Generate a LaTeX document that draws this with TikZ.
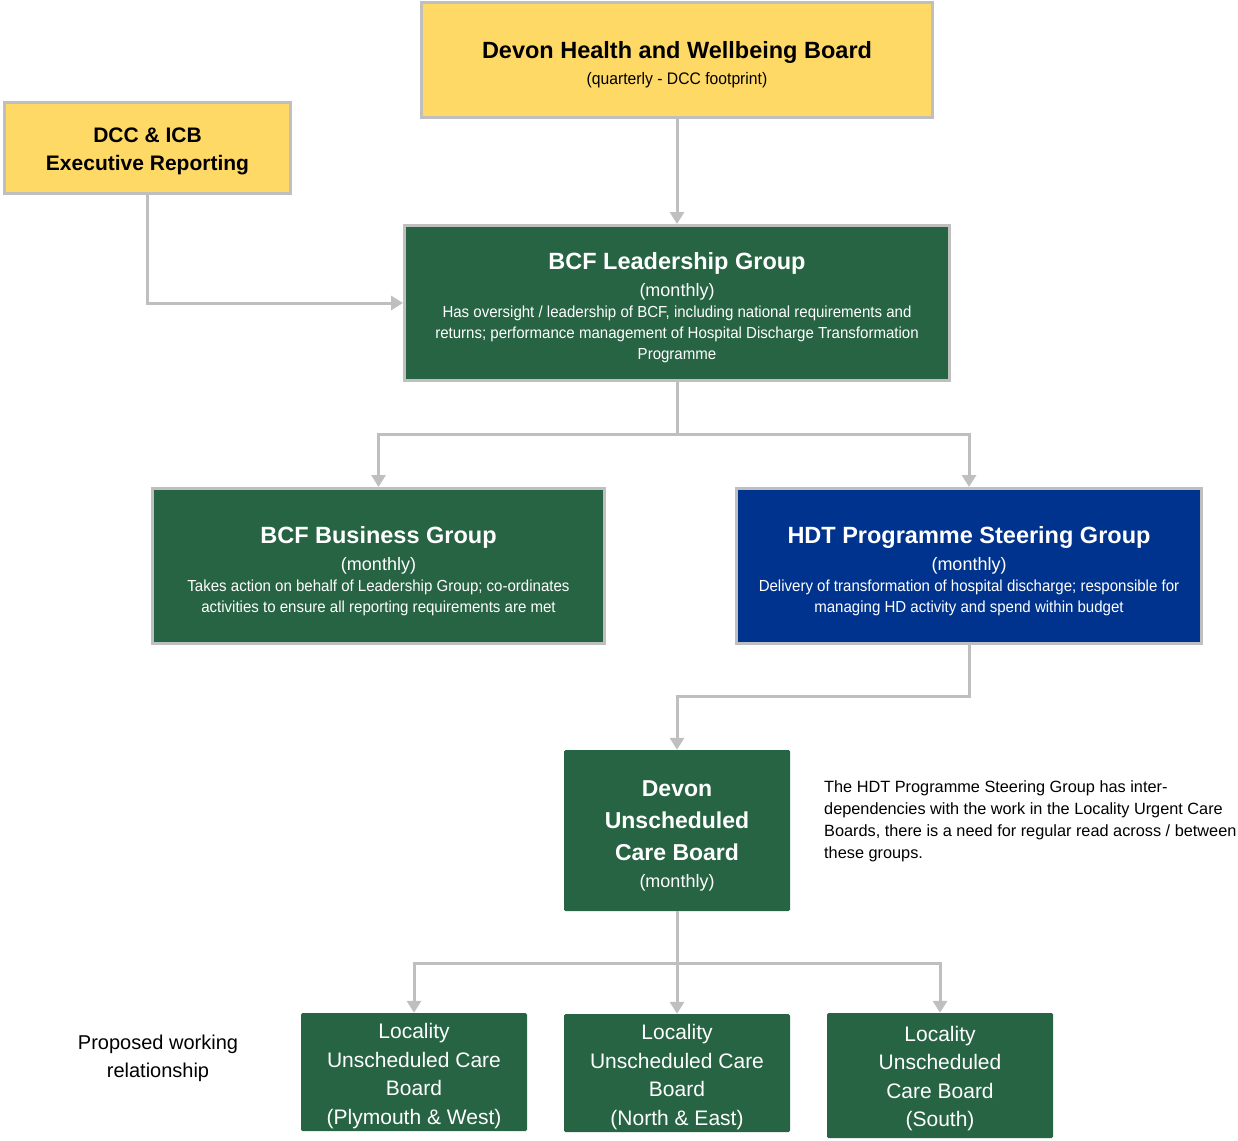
\documentclass[tikz,border=0pt]{standalone}
\usepackage{fontspec}
\setmainfont{Liberation Sans}
\newfontfamily\narrowfont{Liberation Sans}[FakeStretch=0.94]
\usepackage{xcolor}
\definecolor{boardyellow}{HTML}{FFD966}
\definecolor{boardgreen}{HTML}{276443}
\definecolor{boardblue}{HTML}{00338D}
\definecolor{linkgrey}{HTML}{BFBFBF}
\usetikzlibrary{arrows.meta}

\newcommand{\grouptitle}{\rmfamily\bfseries\fontsize{23.5}{28}\selectfont}
\newcommand{\grouprate}{\rmfamily\mdseries\fontsize{18}{21}\selectfont}
\newcommand{\groupdesc}{\narrowfont\fontsize{16}{21}\selectfont}
\newcommand{\topgap}[1]{\rule{0pt}{#1}}

\begin{document}
\begin{tikzpicture}[x=1pt, y=-1pt,
    framed/.style={draw=linkgrey, line width=3pt, align=center, inner sep=0pt},
    yellowbox/.style={framed, fill=boardyellow, text=black},
    greenbox/.style={framed, fill=boardgreen, text=white, font=\groupdesc},
    bluebox/.style={framed, fill=boardblue, text=white, font=\groupdesc},
    localbox/.style={fill=boardgreen, text=white, align=center, inner sep=0pt,
                     rounded corners=1.5pt, minimum width=226pt},
    link/.style={draw=linkgrey, line width=3pt, -{Triangle[width=14pt, length=12pt]}}]

  \useasboundingbox (0,0) rectangle (1238,1140);

  % top level
  \node [yellowbox, minimum width=511pt, minimum height=115pt, font=\narrowfont\fontsize{16.7}{27}\selectfont] (hwb) at (677,60)
        {\topgap{26pt}{\grouptitle Devon Health and Wellbeing Board}\\[-1pt]
         (quarterly - DCC footprint)};
  \node [yellowbox, minimum width=286pt, minimum height=91pt, font=\rmfamily\bfseries\fontsize{21}{28}\selectfont] (exec) at (147.5,148)
        {\topgap{21.5pt}DCC \& ICB\\ Executive Reporting};

  % leadership
  \node [greenbox, minimum width=545pt, minimum height=155pt] (lead) at (677,303)
        {\topgap{27pt}{\grouptitle BCF Leadership Group}\\[6pt]
         {\grouprate (monthly)}\\
         Has oversight / leadership of BCF, including national requirements and\\
         returns; performance management of Hospital Discharge Transformation\\
         Programme};

  % second tier
  \node [greenbox, minimum width=452pt, minimum height=155pt] (business) at (378.5,566)
        {\topgap{27pt}{\grouptitle BCF Business Group}\\[6pt]
         {\grouprate (monthly)}\\
         Takes action on behalf of Leadership Group; co-ordinates\\
         activities to ensure all reporting requirements are met};
  \node [bluebox, minimum width=465pt, minimum height=155pt] (hdt) at (969,566)
        {\topgap{27pt}{\grouptitle HDT Programme Steering Group}\\[6pt]
         {\grouprate (monthly)}\\
         Delivery of transformation of hospital discharge; responsible for\\
         managing HD activity and spend within budget};

  % unscheduled care
  \node [localbox, minimum height=161pt, font=\rmfamily\bfseries\fontsize{23}{32}\selectfont] (devonucb) at (677,830.5)
        {\topgap{26.5pt}Devon\\ Unscheduled\\ Care Board\\[-5pt] {\grouprate (monthly)}};

  \node [anchor=north west, align=left, inner sep=0pt, font=\fontsize{16.3}{22.3}\selectfont] (note) at (824,780)
        {The HDT Programme Steering Group has inter-\\
         dependencies with the work in the Locality Urgent Care\\
         Boards, there is a need for regular read across / between\\
         these groups.};

  % localities
  \node [localbox, minimum height=118pt, font=\fontsize{21}{28.4}\selectfont] (plymouth) at (414,1072)
        {\topgap{23.5pt}Locality\\ Unscheduled Care\\ Board\\ (Plymouth \& West)};
  \node [localbox, minimum height=118pt, font=\fontsize{21}{28.4}\selectfont] (northeast) at (677,1073)
        {\topgap{23.5pt}Locality\\ Unscheduled Care\\ Board\\ (North \& East)};
  \node [localbox, minimum height=125pt, font=\fontsize{21}{28.6}\selectfont] (south) at (940,1075.5)
        {\topgap{21.5pt}Locality\\ Unscheduled\\ Care Board\\ (South)};

  \node [align=center, inner sep=0pt, font=\fontsize{20}{28}\selectfont] (proposed) at (158,1058)
        {Proposed working\\ relationship};

  % connectors
  \draw [link] (hwb.south) -- (lead.north);
  \draw [link] (exec.south) |- (lead.west);
  \draw [link] (lead.south) -- ++(0,52) -| (business.north);
  \draw [link] (lead.south) -- ++(0,52) -| (hdt.north);
  \draw [link] (hdt.south) -- ++(0,51) -| (devonucb.north);
  \draw [link] (devonucb.south) -- ++(0,52) -| (plymouth.north);
  \draw [link] (devonucb.south) -- (northeast.north);
  \draw [link] (devonucb.south) -- ++(0,52) -| (south.north);
\end{tikzpicture}
\end{document}
